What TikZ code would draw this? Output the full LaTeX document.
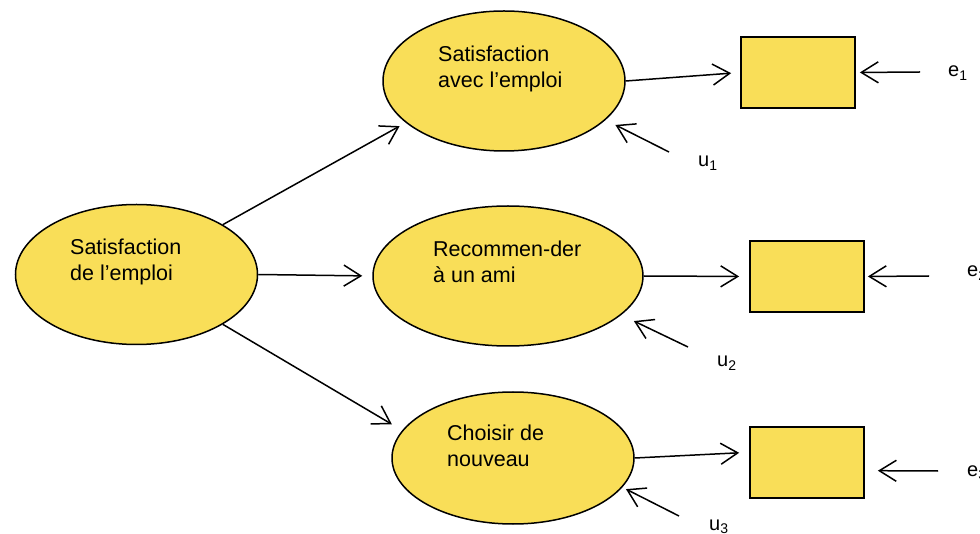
\documentclass[tikz,border=0pt]{standalone}
\usepackage{fontspec}
\setmainfont{Liberation Sans}
\usetikzlibrary{shapes.geometric,arrows.meta}
\definecolor{satyellow}{RGB}{249,222,88}

\begin{document}
\begin{tikzpicture}[x=1pt, y=-1pt,
    latent/.style={ellipse, draw, fill=satyellow, line width=1.5pt, inner sep=0,
        minimum width=242pt, minimum height=140pt},
    obsbox/.style={draw, fill=satyellow, line width=1.8pt, inner sep=0,
        minimum width=114pt, minimum height=71pt},
    txt/.style={align=left, inner sep=0, anchor=north west,
        font=\fontsize{21.5}{25.5}\selectfont},
    err/.style={inner sep=0, anchor=base west, font=\fontsize{20}{24}\selectfont},
    arr/.style={-{Straight Barb[length=17pt, width=21pt]}, line width=1.5pt}]
    \useasboundingbox (0,0) rectangle (980,534);

    % Latent variables
    \node[latent] (sat0) at (136.5,274.5) {};
    \node[latent] (sat1) at (504,81) {};
    \node[latent, minimum width=270pt] (sat2) at (508,276) {};
    \node[latent, minimum height=132pt] (sat3) at (513,458) {};

    % Texts in the ellipses
    \node[txt] (t0) at (70,239) {Satisfaction\\de l’emploi};
    \node[txt] (t1) at (438,46) {Satisfaction\\avec l’emploi};
    \node[txt] (t2) at (433,241) {Recommen-der\\à un ami};
    \node[txt] (t3) at (447,425) {Choisir de\\nouveau};

    % Indicators
    \node[obsbox] (box1) at (798,72.5) {};
    \node[obsbox] (box2) at (807,276.5) {};
    \node[obsbox] (box3) at (807,462.5) {};

    % Error terms
    \node[err] (e1) at (948,77) {e\textsubscript{1}};
    \node[err] (e2) at (967,277) {e\textsubscript{2}};
    \node[err] (e3) at (967,476) {e\textsubscript{3}};
    \node[err] (u1) at (698,167) {u\textsubscript{1}};
    \node[err] (u2) at (717,367) {u\textsubscript{2}};
    \node[err] (u3) at (709,530) {u\textsubscript{3}};

    % Start points of the error arrows
    \coordinate (e1s) at (920,72);
    \coordinate (e2s) at (929,276);
    \coordinate (e3s) at (938,471);
    \coordinate (u1s) at (669,152);
    \coordinate (u2s) at (688,347);
    \coordinate (u3s) at (679,516);

    % Paths from the left ellipse
    \draw[arr, shorten >=7pt] (sat0.30) -- (sat1.203);
    \draw[arr, shorten >=10pt] (sat0.east) -- (sat2.west);
    \draw[arr, shorten >=12pt] (sat0.-30) -- (sat3.166);

    % Ellipses to indicators
    \draw[arr, shorten >=9pt] (sat1.east) -- (box1.west);
    \draw[arr, shorten >=10pt] (sat2.east) -- (box2.west);
    \draw[arr, shorten >=10pt] (sat3.east) -- (box3.170.5);

    % Errors
    \draw[arr, shorten >=4pt] (e1s) -- (box1.east);
    \draw[arr, shorten >=3pt] (e2s) -- (box2.east);
    \draw[arr, shorten >=13pt] (e3s) -- (box3.-8.5);
    \draw[arr, shorten >=11pt] (u1s) -- (sat1.-21);
    \draw[arr, shorten >=14pt] (u2s) -- (sat2.-19);
    \draw[arr, shorten >=4pt] (u3s) -- (sat3.-15.5);
\end{tikzpicture}
\end{document}
